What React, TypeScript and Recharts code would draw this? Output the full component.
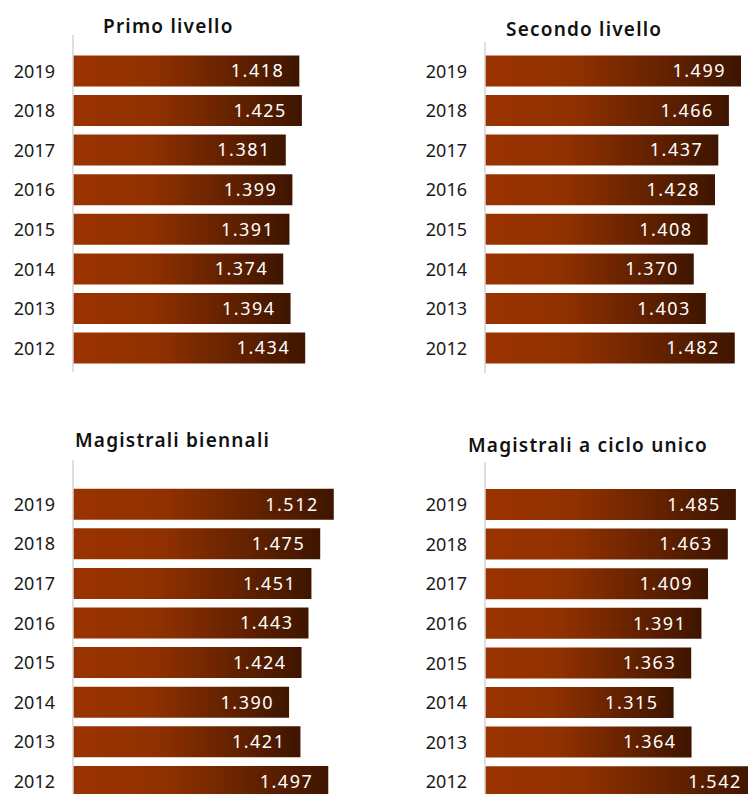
import { BarChart, Bar, XAxis, YAxis, LabelList } from 'recharts';

const years = ['2019', '2018', '2017', '2016', '2015', '2014', '2013', '2012'];

const primoLivello = [1418, 1425, 1381, 1399, 1391, 1374, 1394, 1434];
const secondoLivello = [1499, 1466, 1437, 1428, 1408, 1370, 1403, 1482];
const magistraliBiennali = [1512, 1475, 1451, 1443, 1424, 1390, 1421, 1497];
const cicloUnico = [1485, 1463, 1409, 1391, 1363, 1315, 1364, 1542];

const FONT = '"Noto Sans", sans-serif';
const BAND = 39.6;

const fmt = (v: number) => `${Math.floor(v / 1000)}.${String(v % 1000).padStart(3, '0')}`;

interface PanelProps {
  id: string;
  title: string;
  values: number[];
  left: number;
  axisTop: number;
  bandTop: number;
  axisBottom: number;
  titleLeft: number;
  titleTop: number;
}

const Panel = ({ id, title, values, left, axisTop, bandTop, axisBottom, titleLeft, titleTop }: PanelProps) => {
  const data = years.map((year, i) => ({ year, value: values[i] }));
  const height = axisBottom - axisTop;
  const padTop = bandTop - axisTop;
  const padBottom = height - padTop - BAND * years.length;
  return (
    <>
      <div
        style={{
          position: 'absolute',
          left: titleLeft,
          top: titleTop,
          fontFamily: FONT,
          fontSize: 19,
          lineHeight: '19px',
          fontWeight: 600,
          letterSpacing: 1.2,
          color: '#111',
          whiteSpace: 'nowrap',
        }}
      >
        {title}
      </div>
      <div style={{ position: 'absolute', left, top: axisTop }}>
        <BarChart
          width={366}
          height={height}
          data={data}
          layout="vertical"
          margin={{ top: 0, right: 0, bottom: 0, left: 0 }}
          style={{ fontFamily: FONT }}
        >
          <defs>
            <linearGradient id={id} x1="0" y1="0" x2="1" y2="0">
              <stop offset="0%" stopColor="#9a3300" />
              <stop offset="35%" stopColor="#913100" />
              <stop offset="100%" stopColor="#3e1500" />
            </linearGradient>
          </defs>
          <XAxis type="number" domain={[800, 1600]} hide />
          <YAxis
            type="category"
            dataKey="year"
            width={73}
            tickLine={false}
            axisLine={{ stroke: '#d4d4d4', strokeWidth: 1.5 }}
            tickMargin={12}
            tick={{ fill: '#1a1a1a', fontSize: 18 }}
            padding={{ top: padTop, bottom: padBottom }}
          />
          <Bar dataKey="value" fill={`url(#${id})`} barSize={31} isAnimationActive={false}>
            <LabelList
              dataKey="value"
              position="insideRight"
              offset={15}
              formatter={(v: any) => fmt(Number(v))}
              style={{ fill: '#ffffff', fontSize: 18, letterSpacing: 1.5 }}
            />
          </Bar>
        </BarChart>
      </div>
    </>
  );
};

export default function App() {
  return (
    <div
      style={{
        position: 'fixed',
        left: 0,
        top: 0,
        width: 748,
        height: 794,
        overflow: 'hidden',
        background: '#fff',
      }}
    >
      <Panel id="g1" title="Primo livello" values={primoLivello} left={0} axisTop={35} bandTop={51.4} axisBottom={372} titleLeft={103} titleTop={17} />
      <Panel id="g2" title="Secondo livello" values={secondoLivello} left={412} axisTop={42} bandTop={51.4} axisBottom={373} titleLeft={506} titleTop={20} />
      <Panel id="g3" title="Magistrali biennali" values={magistraliBiennali} left={0} axisTop={460} bandTop={484.7} axisBottom={810} titleLeft={75} titleTop={431} />
      <Panel id="g4" title="Magistrali a ciclo unico" values={cicloUnico} left={412} axisTop={462} bandTop={485} axisBottom={810} titleLeft={468} titleTop={436} />
    </div>
  );
}
